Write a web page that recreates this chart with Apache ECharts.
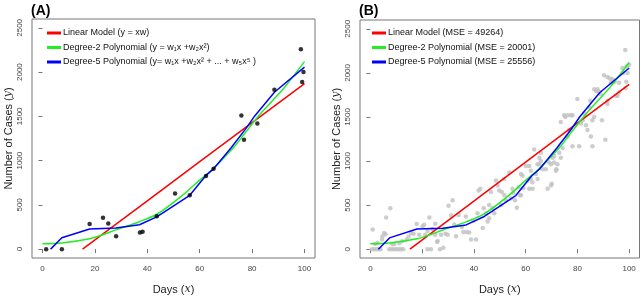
<!DOCTYPE html>
<html>
<head>
<meta charset="utf-8">
<script src="https://cdn.jsdelivr.net/npm/echarts@6/dist/echarts.min.js"></script>
<style>
html,body{margin:0;padding:0;background:#fff;}
#c{width:640px;height:300px;}
</style>
</head>
<body>
<div id="c"></div>
<script>
// ---- data ----
const xTicks = [0, 20, 40, 60, 80, 100];
const yTicks = [0, 500, 1000, 1500, 2000, 2500];

// Panel A observed points [day, cases]
const pointsA = [
  [1.4,0],[7.4,0],[18,284],[23.1,354],[25.1,291],[28.1,147],[37.2,188],[38.2,196],
  [43.6,372],[50.6,630],[56.2,610],[62.4,826],[65.3,907],[75.9,1510],[76.9,1235],
  [82,1420],[88.5,1800],[98.6,2257],[99.1,1888],[99.6,2002]
];

// Panel B observed points [day, cases]
const pointsB = [
  [0.6,0],[1.5,0],[2.4,0],[3.2,0],[3.9,0],[0.9,222],[1.8,60],[2.8,70],[4.5,110],[4.7,148],
  [5.3,185],[5.9,170],[6.1,359],[7.7,463],[7.3,0],[8.2,0],[9.1,0],[10,0],[10.9,0],[11.8,0],
  [12.7,0],[8.5,56],[9.3,60],[11.2,67],[12.3,90],[14,111],[14.8,144],[15.7,185],[16.7,174],
  [17.9,285],[18.9,163],[20.2,259],[20.8,278],[21.2,163],[22.1,0],[23.4,0],[22.8,359],
  [22.1,207],[24,230],[25,163],[25.1,289],[26,93],[25.8,82],[26.9,0],[28.2,15],[27.3,163],
  [29,174],[29.9,163],
  [30.2,493],[31.8,556],[31.2,381],[32.4,278],[33.1,148],[34.1,389],[35.4,252],[35.9,196],
  [36.9,370],[37.2,196],[38.2,189],[38.9,111],[39.8,322],[40.8,111],[41.4,407],[41.8,667],
  [42.5,685],[43.4,241],[43.8,463],[44.7,407],[45.3,315],[45.9,500],[45.9,352],[46.6,648],
  [47.2,463],[47.9,407],[48.5,778],[49.2,722],[49.8,667],[50.5,500],[50.8,648],[51.7,796],
  [51.8,611],[52.4,556],[53.7,870],[54.3,574],[54.9,685],[55.2,640],[55.9,556],[56.6,470],
  [57.3,704],[57.8,611],[58.2,852],[58.2,611],[58.8,833],[59.1,692],
  [60.1,944],[60.7,778],[61.4,685],[61.4,944],[62,889],[62,796],[62.6,759],[62.7,685],
  [63.3,1130],[64,852],[64.6,796],[64.6,963],[65.3,963],[65.3,1037],[65.9,1000],[65.9,1093],
  [66.5,907],[67.8,907],[68.5,685],[69.1,982],[69.8,722],[69.8,963],[70.1,741],[70.4,1037],
  [71,982],[71,1056],[71.7,889],[71.9,907],[72.3,963],[73,1093],[73.6,1037],[73.6,1444],
  [74.3,1148],[74.9,1519],[75.3,1500],[76.2,1519],[76.8,1352],[77.5,1519],[76.2,1278],
  [78.1,1167],[78.1,1519],
  [80,1704],[80.7,1167],[81.4,1426],[82,1463],[82.6,1537],[83.3,1407],[83.9,1352],[84.6,1611],
  [85,1685],[85.2,1278],[85.8,1167],[85.8,1463],[86.5,1500],[86.5,1815],[87.3,1793],[87.8,1815],
  [88.4,1785],[89,1759],[89.5,1463],[90.8,1241],[91.6,1648],[91.7,1685],[90.3,1974],[91.6,1952],
  [92.5,1935],[93.3,1930],[94,1920],[92.9,1889],[94.4,1900],[94.9,1741],[95.5,1741],[96.1,1889],
  [96.1,1778],[97.4,2056],[97.8,2000],[98.5,2259],[98.5,1826],[98.9,1900],[99,2074],[99.4,2000],
  [100,2093]
];

// Fitted curves [day, cases]
const linearFit = [[15.3,0],[40,546],[60,988],[80,1430],[100,1870]];
const quadFit = [[0,62],[7.4,70],[18,118],[23,163],[28,218],[37,310],[44,400],[52.7,590],
  [60,780],[65.5,920],[73,1150],[77,1300],[83.5,1540],[92.4,1830],[100,2118]];
const poly5Fit = [[3.1,0],[7.4,128],[18,228],[28,238],[37,275],[43.6,365],[50.5,498],
  [56.2,608],[62.3,830],[65.4,910],[72,1145],[77.7,1364],[81,1505],[88.6,1775],[100,2056]];

const namesA = ['Linear Model (y = xw)', 'Degree-2 Polynomial (y = w\u2081x +w\u2082x\u00B2)',
  'Degree-5 Polynomial (y= w\u2081x +w\u2082x\u00B2 + ... + w\u2085x\u2075 )'];
const namesB = ['Linear Model (MSE = 49264)', 'Degree-2 Polynomial (MSE = 20001)',
  'Degree-5 Polynomial (MSE = 25556)'];
const fitColors = ['#ff0000', '#22ee22', '#0000ff'];

// ---- chart ----
const FONT = 'Liberation Sans, Arial, sans-serif';
const boxColor = '#777';

function xAx(gi) {
  return {
    type: 'value', gridIndex: gi, min: -4, max: 104,
    axisLine: {show: false},
    axisTick: {show: true, customValues: xTicks, length: 4, inside: false, lineStyle: {color: boxColor}},
    axisLabel: {customValues: xTicks, fontSize: 8, color: '#444', fontFamily: FONT, margin: 7,
      formatter: v => String(v)},
    splitLine: {show: false},
    name: 'Days ({i|x})', nameLocation: 'middle', nameGap: 26,
    nameTextStyle: {fontSize: 11, color: '#222', fontFamily: FONT,
      rich: {i: {fontFamily: 'DejaVu Serif', fontStyle: 'italic', fontSize: 11, color: '#222'}}}
  };
}
function yAx(gi) {
  return {
    type: 'value', gridIndex: gi, min: -100, max: 2600,
    axisLine: {show: false},
    axisTick: {show: true, customValues: yTicks, length: 4, inside: false, lineStyle: {color: boxColor}},
    axisLabel: {customValues: yTicks, fontSize: 8, color: '#444', fontFamily: FONT, rotate: 90, margin: 8,
      formatter: v => String(v)},
    splitLine: {show: false},
    name: 'Number of Cases ({i|y})', nameLocation: 'middle', nameGap: 18, nameRotate: 90,
    nameTextStyle: {fontSize: 11, color: '#222', fontFamily: FONT,
      rich: {i: {fontFamily: 'DejaVu Serif', fontStyle: 'italic', fontSize: 11, color: '#222'}}}
  };
}
function legend(names, left) {
  return {
    data: names, orient: 'vertical', left: left, top: 28,
    icon: 'rect', itemWidth: 14, itemHeight: 3, itemGap: 4.5, padding: 0,
    selectedMode: false,
    textStyle: {fontSize: 9, color: '#111', fontFamily: FONT, lineHeight: 10, padding: [0, 0, 0, -3]}
  };
}
function fitSeries(names, gi) {
  const fits = [linearFit, quadFit, poly5Fit];
  return fits.map((d, i) => ({
    type: 'line', name: names[i], xAxisIndex: gi, yAxisIndex: gi, data: d,
    showSymbol: false, symbol: 'none', smooth: i === 1 ? 0.3 : false,
    lineStyle: {color: fitColors[i], width: 1.5}, itemStyle: {color: fitColors[i]},
    clip: true, animation: false, z: 3
  }));
}

const chart = echarts.init(document.getElementById('c'), null, {renderer: 'canvas'});
chart.setOption({
  animation: false,
  backgroundColor: '#fff',
  title: [
    {text: '(A)', left: 26, top: -1, textStyle: {fontSize: 14, fontWeight: 'bold', color: '#000', fontFamily: FONT}},
    {text: '(B)', left: 354, top: -1, textStyle: {fontSize: 14, fontWeight: 'bold', color: '#000', fontFamily: FONT}}
  ],
  grid: [
    {left: 32, top: 19, width: 283, height: 245, show: true, borderColor: boxColor, borderWidth: 1, backgroundColor: 'transparent'},
    {left: 360, top: 20, width: 279.5, height: 244, show: true, borderColor: boxColor, borderWidth: 1, backgroundColor: 'transparent'}
  ],
  xAxis: [xAx(0), xAx(1)],
  yAxis: [yAx(0), yAx(1)],
  legend: [legend(namesA, 47), legend(namesB, 372)],
  series: [
    {type: 'scatter', xAxisIndex: 0, yAxisIndex: 0, data: pointsA, symbolSize: 4.5,
      itemStyle: {color: '#000'}, z: 4},
    ...fitSeries(namesA, 0),
    {type: 'scatter', xAxisIndex: 1, yAxisIndex: 1, data: pointsB, symbolSize: 4.5,
      itemStyle: {color: '#c0c0c0'}, z: 2},
    ...fitSeries(namesB, 1)
  ]
});
</script>
</body>
</html>
